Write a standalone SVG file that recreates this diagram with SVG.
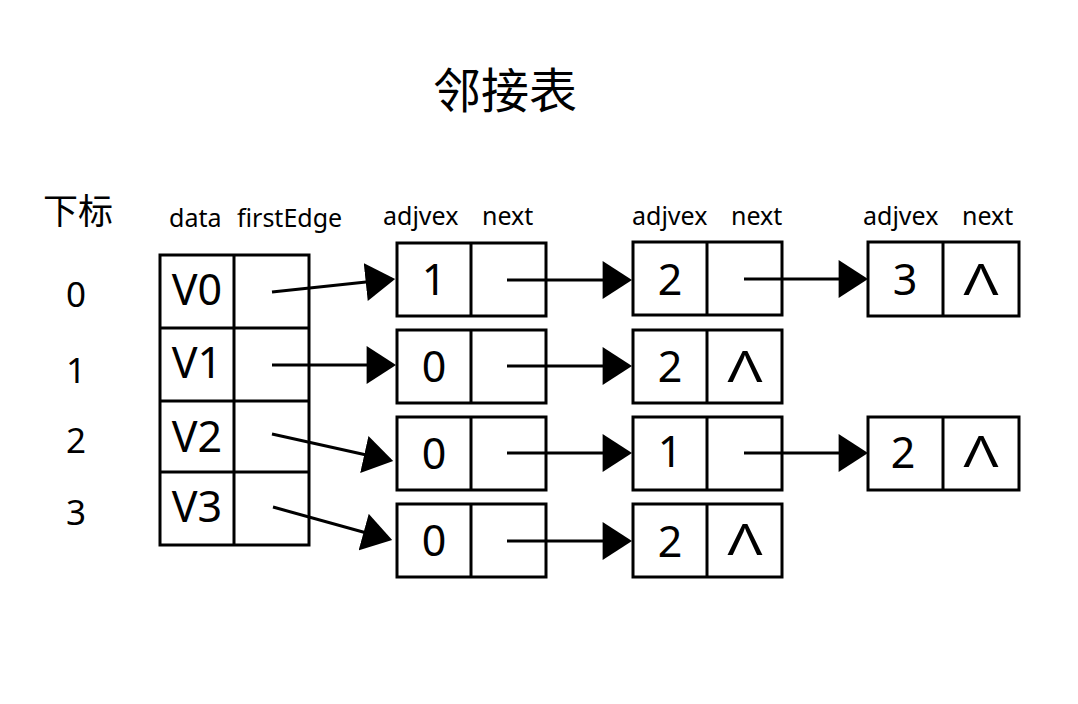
<svg xmlns="http://www.w3.org/2000/svg" width="1078" height="704" viewBox="0 0 1078 704">
<style>
  .box { fill: #fff; stroke: #000; stroke-width: 3; }
  .div { stroke: #000; stroke-width: 3; }
  .conn { stroke: #000; stroke-width: 3; fill: none; marker-end: url(#arrow); }
  .t { font-family: "Noto Sans", "Open Sans", "Noto Sans CJK SC", sans-serif; fill: #000; }
  .cjk { font-family: "Noto Sans CJK SC", "Noto Sans", sans-serif; fill: #000; }
  .val { font-size: 43px; text-anchor: middle; }
  .hdr { font-size: 25px; }
  .idx { font-size: 35px; text-anchor: middle; }
</style>
<defs>
  <marker id="arrow" markerUnits="userSpaceOnUse" markerWidth="30" markerHeight="38" viewBox="0 0 28 36" refX="25" refY="18" orient="auto">
    <path d="M0,0 L28,18 L0,36 z" fill="#000"/>
  </marker>
</defs>
<rect width="1078" height="704" fill="#fff"/>

<g id="title">
  <text class="cjk" x="505" y="108" font-size="48" text-anchor="middle">邻接表</text>
</g>
<g id="index-labels">
  <text class="cjk" x="43" y="224" font-size="35">下标</text>
  <text class="t idx" x="76" y="307">0</text>
  <text class="t idx" x="76" y="383">1</text>
  <text class="t idx" x="76" y="453">2</text>
  <text class="t idx" x="76" y="525">3</text>
</g>
<g id="headers">
  <text class="t hdr" x="169" y="227">data</text>
  <text class="t hdr" x="237" y="227">firstEdge</text>
  <text class="t hdr" x="383" y="225">adjvex</text>
  <text class="t hdr" x="482" y="225">next</text>
  <text class="t hdr" x="632" y="225">adjvex</text>
  <text class="t hdr" x="731" y="225">next</text>
  <text class="t hdr" x="863" y="225">adjvex</text>
  <text class="t hdr" x="962" y="225">next</text>
</g>

<g id="vertex-table">
  <rect class="box" x="160" y="255" width="149" height="290"/>
  <line class="div" x1="234" y1="255" x2="234" y2="545"/>
  <line class="div" x1="160" y1="328" x2="309" y2="328"/>
  <line class="div" x1="160" y1="401" x2="309" y2="401"/>
  <line class="div" x1="160" y1="472" x2="309" y2="472"/>
  <text class="t val" x="197" y="305">V0</text>
  <text class="t val" x="197" y="378">V1</text>
  <text class="t val" x="197" y="452">V2</text>
  <text class="t val" x="197" y="522">V3</text>
</g>

<g id="e0-1">
  <rect class="box" x="397" y="243" width="149" height="73"/>
  <line class="div" x1="471" y1="243" x2="471" y2="316"/>
  <text class="t val" x="434" y="295">1</text>
</g>
<g id="e0-2">
  <rect class="box" x="633" y="242" width="149" height="73"/>
  <line class="div" x1="707" y1="242" x2="707" y2="315"/>
  <text class="t val" x="670" y="295">2</text>
</g>
<g id="e0-3">
  <rect class="box" x="868" y="242" width="151" height="74"/>
  <line class="div" x1="943" y1="242" x2="943" y2="316"/>
  <text class="t val" x="905" y="295">3</text>
  <text class="t val" x="981" y="295" textLength="35" lengthAdjust="spacingAndGlyphs">Λ</text>
</g>

<g id="e1-1">
  <rect class="box" x="397" y="330" width="149" height="73"/>
  <line class="div" x1="471" y1="330" x2="471" y2="403"/>
  <text class="t val" x="434" y="382">0</text>
</g>
<g id="e1-2">
  <rect class="box" x="633" y="330" width="149" height="73"/>
  <line class="div" x1="707" y1="330" x2="707" y2="403"/>
  <text class="t val" x="670" y="382">2</text>
  <text class="t val" x="745" y="382" textLength="35" lengthAdjust="spacingAndGlyphs">Λ</text>
</g>

<g id="e2-1">
  <rect class="box" x="397" y="417" width="149" height="73"/>
  <line class="div" x1="471" y1="417" x2="471" y2="490"/>
  <text class="t val" x="434" y="469">0</text>
</g>
<g id="e2-2">
  <rect class="box" x="633" y="417" width="149" height="73"/>
  <line class="div" x1="707" y1="417" x2="707" y2="490"/>
  <text class="t val" x="670" y="467">1</text>
</g>
<g id="e2-3">
  <rect class="box" x="868" y="417" width="151" height="73"/>
  <line class="div" x1="943" y1="417" x2="943" y2="490"/>
  <text class="t val" x="903" y="468">2</text>
  <text class="t val" x="981" y="467" textLength="35" lengthAdjust="spacingAndGlyphs">Λ</text>
</g>

<g id="e3-1">
  <rect class="box" x="397" y="504" width="149" height="73"/>
  <line class="div" x1="471" y1="504" x2="471" y2="577"/>
  <text class="t val" x="434" y="556">0</text>
</g>
<g id="e3-2">
  <rect class="box" x="633" y="504" width="149" height="73"/>
  <line class="div" x1="707" y1="504" x2="707" y2="577"/>
  <text class="t val" x="670" y="557">2</text>
  <text class="t val" x="745" y="555" textLength="35" lengthAdjust="spacingAndGlyphs">Λ</text>
</g>

<g id="connectors">
  <line class="conn" x1="272" y1="292" x2="392" y2="279.3"/>
  <line class="conn" x1="272" y1="365" x2="393" y2="365"/>
  <line class="conn" x1="272" y1="434" x2="390.1" y2="460.3"/>
  <line class="conn" x1="273" y1="507" x2="389.1" y2="539.2"/>
  <line class="conn" x1="507" y1="280" x2="629" y2="280"/>
  <line class="conn" x1="507" y1="366" x2="629" y2="366"/>
  <line class="conn" x1="507" y1="453" x2="629" y2="453"/>
  <line class="conn" x1="507" y1="541" x2="629" y2="541"/>
  <line class="conn" x1="744" y1="279" x2="865" y2="279"/>
  <line class="conn" x1="744" y1="453" x2="865" y2="453"/>
</g>
</svg>
